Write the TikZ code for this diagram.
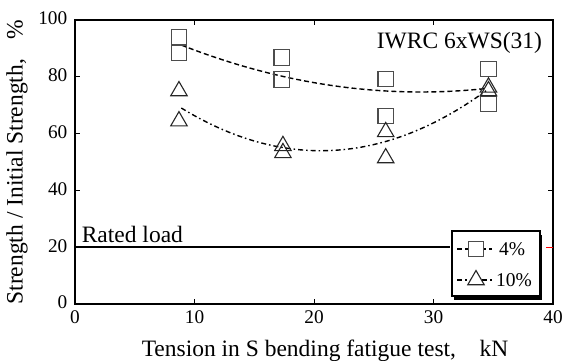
\documentclass[tikz,border=0pt]{standalone}
\usepackage{fontspec}
\setmainfont{Liberation Serif}
\usetikzlibrary{shapes.geometric}
\begin{document}
\begin{tikzpicture}[x=1pt,y=1pt,
  sq/.style={draw=black!70,line width=1.1pt,minimum size=15.5pt,inner sep=0pt,fill=none},
  tri/.style={draw=black!85,line width=1.1pt,regular polygon,regular polygon sides=3,minimum size=19pt,inner sep=0pt},
  fourp/.style={line width=1.4pt,dash pattern=on 5pt off 3pt},
  tenp/.style={line width=1.4pt,dash pattern=on 5pt off 3pt on 1.5pt off 3pt},
  ticklab/.style={font=\fontsize{19.3}{21}\selectfont,inner sep=0pt},
  biglab/.style={font=\fontsize{23.5}{26}\selectfont,inner sep=0pt},
  leglab/.style={font=\fontsize{19.5}{22}\selectfont,inner sep=0pt,anchor=west},
  frame/.style={line width=2.2pt},
  tck/.style={line width=1pt}]
\useasboundingbox (0,0) rectangle (563,361);
% labels outside data scope
\node[biglab,anchor=base] (xlab) at (325,4) {Tension in S bending fatigue test,\hspace{1em}kN};
\node[biglab,rotate=90] (ylab) at (17,199) {Strength / Initial Strength,\hspace{0.85em}\%};
\begin{scope}[shift={(75,57)},x=11.95pt,y=2.84pt]
  % curves
  \draw[fourp] plot[domain=8.9:34.4,samples=60] (\x,{109.1-2.380*\x+0.04111*\x*\x});
  \draw[tenp] plot[domain=8.9:34.4,samples=60] (\x,{100.67-4.541*\x+0.11038*\x*\x});
  % rated load
  \coordinate (r0) at (0,20);
  \coordinate (r1) at (31.4,20);
  \draw[line width=1.8pt] (r0) -- (r1);
  % frame
  \draw[frame] (0,0) rectangle (40,100);
  \foreach \t in {10,20,30}{
    \draw[tck] (\t,0) -- ++(0,5pt);
    \draw[tck] (\t,100) -- ++(0,-5pt);
    \node[ticklab,anchor=north] (xt\t) at (\t,-6pt) {\t};
  }
  \node[ticklab,anchor=north] (xt0) at (0,-6pt) {0};
  \node[ticklab,anchor=north] (xt40) at (40,-6pt) {40};
  \foreach \t in {20,40,60,80}{
    \draw[tck] (0,\t) -- ++(5pt,0);
  }
  \foreach \t in {40,60,80}{
    \draw[tck] (40,\t) -- ++(-5pt,0);
  }
  \draw[tck,red] (40,20) -- ++(-7pt,0);
  \foreach \t in {0,20,40,60,80,100}{
    \node[ticklab,anchor=east] (yt\t) at ([yshift=1.5pt]-7.5pt,\t) {\t};
  }
  % data: squares
  \node[sq] (s1) at (8.7,94) {};
  \node[sq] (s2) at (8.7,88.4) {};
  \node[sq] (s3) at (17.3,86.8) {};
  \node[sq] (s4) at (17.3,79) {};
  \node[sq] (s5) at (26,79.2) {};
  \node[sq] (s6) at (26,66.2) {};
  \node[sq] (s7) at (34.6,82.7) {};
  \node[sq] (s8) at (34.6,70.5) {};
  % data: triangles
  \node[tri] (t1) at (8.7,75) {};
  \node[tri] (t2) at (8.7,64.4) {};
  \node[tri] (t3) at (17.4,55.7) {};
  \node[tri] (t4) at (17.4,53.2) {};
  \node[tri] (t5) at (26,60.6) {};
  \node[tri] (t6) at (26,51.4) {};
  \node[tri] (t7) at (34.6,75) {};
  \node[tri] (t8) at (34.6,76.3) {};
  % title
  \node[biglab,anchor=base east] (title) at (39.1,90) {IWRC 6xWS(31)};
  \node[biglab,anchor=base west] (rated) at (0.55,21.6) {Rated load};
\end{scope}
% legend
\fill[black] (454,61) rectangle (542,126);
\node[draw,fill=white,line width=1.6pt,minimum width=88pt,minimum height=65pt,inner sep=0pt,anchor=south west] (leg) at (451,64) {};
\coordinate (la1) at (457,112);
\coordinate (lb1) at (492,112);
\coordinate (la2) at (457,81);
\coordinate (lb2) at (492,81);
\draw[fourp] (la1) -- (lb1);
\draw[tenp] (la2) -- (lb2);
\node[sq,fill=white] (lsq) at (476,112) {};
\node[tri,fill=white] (ltri) at (476,81) {};
\node[leglab] (l4) at (499,112) {4\%};
\node[leglab] (l10) at (496,81) {10\%};
\end{tikzpicture}
\end{document}
